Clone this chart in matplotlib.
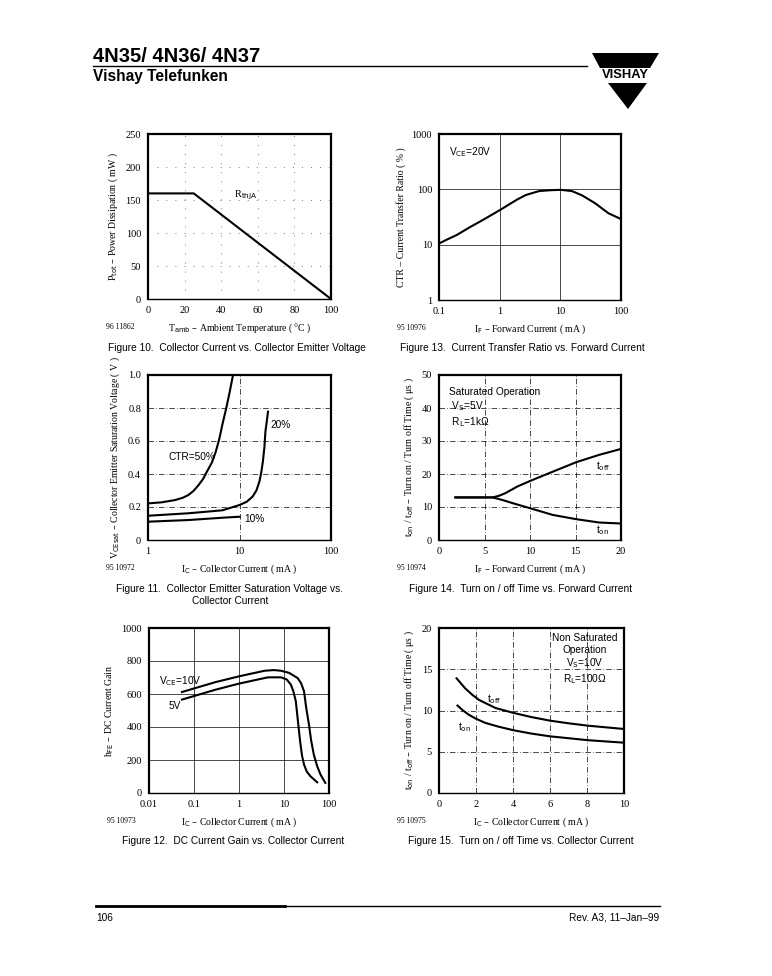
import matplotlib
matplotlib.use('Agg')
import matplotlib.pyplot as plt
import matplotlib.patches as patches
from matplotlib.ticker import FixedLocator, NullLocator

W, H = 772, 976

# ---- data ----
# Figure 10: power dissipation derating
f10_temp = [0, 25, 100]
f10_ptot = [160, 160, 0]
f10_xticks = [0, 20, 40, 60, 80, 100]
f10_yticks = [0, 50, 100, 150, 200, 250]

# Figure 13: CTR vs forward current
f13_if = [0.1, 0.132, 0.197, 0.318, 0.53, 1.0, 1.97, 2.7, 4.47, 6.5, 10, 15.5, 22.7, 37.5, 62, 100]
f13_ctr = [10.5, 12.2, 15, 20.5, 28, 42, 66, 79, 93, 96, 98, 93, 78, 56, 37, 29]
f13_xticks = [0.1, 1, 10, 100]
f13_xlabels = ['0.1', '1', '10', '100']
f13_yticks = [1, 10, 100, 1000]
f13_ylabels = ['1', '10', '100', '1000']

# Figure 11: VCEsat vs collector current
f11_ic_50 = [1.0, 1.4, 1.97, 2.4, 2.77, 3.15, 3.57, 4.0, 4.4, 5.0, 5.5, 6.0, 6.5, 7.1, 7.7, 8.5]
f11_v_50 = [0.222, 0.228, 0.242, 0.256, 0.273, 0.298, 0.333, 0.37, 0.414, 0.47, 0.535, 0.61, 0.70, 0.79, 0.88, 1.0]
f11_ic_20 = [1.0, 2.77, 6.5, 10, 12.0, 13.9, 15.3, 16.5, 17.3, 18, 18.7, 19.2, 20.5]
f11_v_20 = [0.147, 0.162, 0.18, 0.212, 0.232, 0.263, 0.30, 0.354, 0.41, 0.475, 0.56, 0.657, 0.778]
f11_ic_10 = [1.0, 2.77, 6.5, 10]
f11_v_10 = [0.111, 0.121, 0.135, 0.141]
f11_xticks = [1, 10, 100]
f11_xlabels = ['1', '10', '100']
f11_yticks = [0, 0.2, 0.4, 0.6, 0.8, 1.0]
f11_ylabels = ['0', '0.2', '0.4', '0.6', '0.8', '1.0']

# Figure 14: ton / toff vs forward current
f14_if = [1.8, 5.9, 6.6, 7.3, 8.6, 10.1, 12.5, 15.1, 17.6, 20]
f14_toff = [12.9, 12.9, 13.4, 14.2, 16.2, 18, 20.7, 23.6, 25.8, 27.6]
f14_if_on = [1.8, 5.9, 7.0, 8.05, 10.1, 12.5, 15.1, 17.6, 20]
f14_ton = [12.9, 12.9, 12.1, 11.2, 9.55, 7.6, 6.3, 5.3, 5.0]
f14_xticks = [0, 5, 10, 15, 20]
f14_yticks = [0, 10, 20, 30, 40, 50]

# Figure 12: DC current gain
f12_ic_10v = [0.054, 0.3, 1, 3.7, 6.0, 8.6, 13, 20, 24, 27.9, 31, 35.9, 40, 46, 55, 65, 83]
f12_h_10v = [612, 672, 707, 741, 745, 741, 728, 697, 665, 616, 520, 414, 320, 232, 160, 111, 61]
f12_ic_5v = [0.054, 0.3, 1, 4.4, 8.6, 11.5, 14.2, 16.2, 18.3, 20.5, 22.8, 25.2, 27.9, 32, 38.9, 54.6]
f12_h_5v = [566, 626, 663, 701, 701, 688, 657, 615, 556, 430, 313, 225, 172, 130, 101, 65]
f12_xticks = [0.01, 0.1, 1, 10, 100]
f12_xlabels = ['0.01', '0.1', '1', '10', '100']
f12_yticks = [0, 200, 400, 600, 800, 1000]

# Figure 15: ton / toff vs collector current
f15_ic_off = [0.95, 1.41, 1.8, 2.15, 2.6, 3.06, 4.04, 5.0, 6.0, 7.0, 8.05, 10]
f15_toff = [13.9, 12.7, 11.9, 11.3, 10.8, 10.3, 9.7, 9.2, 8.77, 8.45, 8.16, 7.76]
f15_ic_on = [1.0, 1.3, 1.6, 2.0, 2.5, 3.2, 4.04, 5.0, 6.0, 8.05, 10]
f15_ton = [10.6, 10.0, 9.5, 9.0, 8.5, 8.05, 7.6, 7.2, 6.87, 6.4, 6.1]
f15_xticks = [0, 2, 4, 6, 8, 10]
f15_yticks = [0, 5, 10, 15, 20]

SERIF = 'Liberation Serif'
SANS = 'Liberation Sans'


def make_axes(fig, x0, y0, x1, y1):
    return fig.add_axes([x0 / W, 1 - y1 / H, (x1 - x0) / W, (y1 - y0) / H])


def style(ax, xlabel, ylabel, ident):
    for s in ax.spines.values():
        s.set_linewidth(1.6)
    ax.spines['bottom'].set_linewidth(1.0)
    ax.tick_params(length=0, labelsize=7.5, pad=5)
    for lab in ax.get_xticklabels() + ax.get_yticklabels():
        lab.set_fontfamily(SERIF)
    ax.xaxis.set_minor_locator(NullLocator())
    ax.yaxis.set_minor_locator(NullLocator())
    ax.set_xlabel(xlabel, fontfamily=SERIF, fontsize=7, labelpad=5)
    ax.set_ylabel(ylabel, fontfamily=SERIF, fontsize=7, labelpad=4)
    pos = ax.get_position()
    fig.text(pos.x0 - 42 / W, pos.y0 - 28 / H, ident, fontfamily=SERIF,
             fontsize=5.5, va='center')


def caption(fig, xc, yc, text):
    fig.text(xc / W, 1 - yc / H, text, fontfamily=SANS, fontsize=7.3,
             ha='center', va='center', linespacing=1.3)


def grid(ax, ls=(0, (6, 4))):
    ax.grid(True, which='major', color='black', lw=0.5, ls=ls)
    ax.set_axisbelow(True)


def px(x, y):
    return (x / W, 1 - y / H)


fig = plt.figure(figsize=(W / 100, H / 100), dpi=100)

# ---- header ----
fig.text(93 / W, 1 - 57 / H, '4N35/ 4N36/ 4N37', fontfamily=SANS,
         fontweight='bold', fontsize=14.5, va='center')
fig.text(93 / W, 1 - 77 / H, 'Vishay Telefunken', fontfamily=SANS,
         fontweight='bold', fontsize=11.2, va='center')
fig.add_artist(plt.Line2D([93 / W, 587 / W], [1 - 66 / H, 1 - 66 / H],
                          color='black', lw=1.0))
# logo
fig.add_artist(patches.Polygon([px(592, 53), px(659, 53), px(650, 68), px(600, 68)],
                               closed=True, color='black', lw=0))
fig.text(625.5 / W, 1 - 75.5 / H, 'VISHAY', fontfamily=SANS, fontweight='bold',
         fontsize=9.3, ha='center', va='center')
fig.add_artist(patches.Polygon([px(608, 83), px(647, 83), px(628, 109)],
                               closed=True, color='black', lw=0))

# ---- footer ----
fig.add_artist(plt.Line2D([96 / W, 660 / W], [1 - 906 / H, 1 - 906 / H],
                          color='black', lw=1.0))
fig.add_artist(plt.Line2D([96 / W, 285 / W], [1 - 906 / H, 1 - 906 / H],
                          color='black', lw=2.0))
fig.text(96 / W, 1 - 918 / H, '106', fontfamily=SANS, fontsize=7.3, va='center')
fig.text(659 / W, 1 - 918 / H, 'Rev. A3, 11\u2013Jan\u201399', fontfamily=SANS,
         fontsize=7.3, va='center', ha='right')

# ---- Figure 10 ----
ax = make_axes(fig, 148, 134, 331, 299)
ax.plot(f10_temp, f10_ptot, color='black', lw=1.5)
ax.set_xlim(0, 100)
ax.set_ylim(0, 250)
ax.set_xticks(f10_xticks)
ax.set_yticks(f10_yticks)
grid(ax, ls=(0, (1, 12)))
ax.text(47, 157, r'R$_{\mathrm{thJA}}$', fontfamily=SERIF, fontsize=7.5, va='center')
style(ax, 'T$_{\\mathrm{amb}}$ \u2013 Ambient Temperature ( \u00b0C )',
      'P$_{\\mathrm{tot}}$ \u2013 Power Dissipation ( mW )', '96 11862')
caption(fig, 237, 348, 'Figure 10.  Collector Current vs. Collector Emitter Voltage')

# ---- Figure 13 ----
ax = make_axes(fig, 439, 134, 621, 300)
ax.plot(f13_if, f13_ctr, color='black', lw=1.5)
ax.set_xscale('log')
ax.set_yscale('log')
ax.set_xlim(0.1, 100)
ax.set_ylim(1, 1000)
ax.xaxis.set_major_locator(FixedLocator(f13_xticks))
ax.yaxis.set_major_locator(FixedLocator(f13_yticks))
ax.set_xticklabels(f13_xlabels)
ax.set_yticklabels(f13_ylabels)
grid(ax, ls='-')
ax.text(0.145, 480, r'V$_{\mathrm{CE}}$=20V', fontfamily=SANS, fontsize=7.3, va='center')
style(ax, 'I$_{\\mathrm{F}}$ \u2013 Forward Current ( mA )',
      'CTR \u2013 Current Transfer Ratio ( % )', '95 10976')
caption(fig, 522, 348, 'Figure 13.  Current Transfer Ratio vs. Forward Current')

# ---- Figure 11 ----
ax = make_axes(fig, 148, 375, 331, 540)
ax.plot(f11_ic_50, f11_v_50, color='black', lw=1.5)
ax.plot(f11_ic_20, f11_v_20, color='black', lw=1.5)
ax.plot(f11_ic_10, f11_v_10, color='black', lw=1.5)
ax.set_xscale('log')
ax.set_xlim(1, 100)
ax.set_ylim(0, 1.0)
ax.xaxis.set_major_locator(FixedLocator(f11_xticks))
ax.set_xticklabels(f11_xlabels)
ax.set_yticks(f11_yticks)
ax.set_yticklabels(f11_ylabels)
grid(ax, ls=(0, (8, 3, 1, 3)))
ax.text(1.66, 0.50, 'CTR=50%', fontfamily=SANS, fontsize=7.3, va='center')
ax.text(22, 0.70, '20%', fontfamily=SANS, fontsize=7.3, va='center')
ax.text(11.3, 0.13, '10%', fontfamily=SANS, fontsize=7.3, va='center')
style(ax, 'I$_{\\mathrm{C}}$ \u2013 Collector Current ( mA )',
      'V$_{\\mathrm{CEsat}}$ \u2013 Collector Emitter Saturation Voltage ( V )', '95 10972')
caption(fig, 230, 595, 'Figure 11.  Collector Emitter Saturation Voltage vs.\nCollector Current')

# ---- Figure 14 ----
ax = make_axes(fig, 439, 375, 621, 540)
ax.plot(f14_if, f14_toff, color='black', lw=1.5)
ax.plot(f14_if_on, f14_ton, color='black', lw=1.5)
ax.set_xlim(0, 20)
ax.set_ylim(0, 50)
ax.set_xticks(f14_xticks)
ax.set_yticks(f14_yticks)
grid(ax, ls=(0, (8, 3, 1, 3)))
ax.text(17.2, 22.5, 't$_{\\mathrm{off}}$', fontfamily=SANS, fontsize=7.3, va='center')
ax.text(17.2, 3.0, 't$_{\\mathrm{on}}$', fontfamily=SANS, fontsize=7.3, va='center')
ax.text(1.1, 46.5, 'Saturated Operation\n V$_{\\mathrm{S}}$=5V\n R$_{\\mathrm{L}}$=1k\u03a9',
        fontfamily=SANS, fontsize=7.3, va='top', linespacing=1.25)
style(ax, 'I$_{\\mathrm{F}}$ \u2013 Forward Current ( mA )',
      't$_{\\mathrm{on}}$ / t$_{\\mathrm{off}}$ \u2013 Turn on / Turn off Time ( \u03bcs )', '95 10974')
caption(fig, 521, 589, 'Figure 14.  Turn on / off Time vs. Forward Current')

# ---- Figure 12 ----
ax = make_axes(fig, 149, 628, 329, 793)
ax.plot(f12_ic_10v, f12_h_10v, color='black', lw=1.5)
ax.plot(f12_ic_5v, f12_h_5v, color='black', lw=1.5)
ax.set_xscale('log')
ax.set_xlim(0.01, 100)
ax.set_ylim(0, 1000)
ax.xaxis.set_major_locator(FixedLocator(f12_xticks))
ax.set_xticklabels(f12_xlabels)
ax.set_yticks(f12_yticks)
grid(ax, ls='-')
ax.text(0.017, 677, 'V$_{\\mathrm{CE}}$=10V', fontfamily=SANS, fontsize=7.3, va='center')
ax.text(0.027, 525, '5V', fontfamily=SANS, fontsize=7.3, va='center')
style(ax, 'I$_{\\mathrm{C}}$ \u2013 Collector Current ( mA )',
      'h$_{\\mathrm{FE}}$ \u2013 DC Current Gain', '95 10973')
caption(fig, 233, 841, 'Figure 12.  DC Current Gain vs. Collector Current')

# ---- Figure 15 ----
ax = make_axes(fig, 439, 628, 624, 793)
ax.plot(f15_ic_off, f15_toff, color='black', lw=1.5)
ax.plot(f15_ic_on, f15_ton, color='black', lw=1.5)
ax.set_xlim(0, 10)
ax.set_ylim(0, 20)
ax.set_xticks(f15_xticks)
ax.set_yticks(f15_yticks)
grid(ax, ls=(0, (8, 3, 1, 3)))
ax.text(2.6, 11.4, 't$_{\\mathrm{off}}$', fontfamily=SANS, fontsize=7.3, va='center')
ax.text(1.0, 8.0, 't$_{\\mathrm{on}}$', fontfamily=SANS, fontsize=7.3, va='center')
ax.text(7.9, 19.4, 'Non Saturated\nOperation\nV$_{\\mathrm{S}}$=10V\nR$_{\\mathrm{L}}$=100\u03a9',
        fontfamily=SANS, fontsize=7.3, va='top', ha='center', linespacing=1.2)
style(ax, 'I$_{\\mathrm{C}}$ \u2013 Collector Current ( mA )',
      't$_{\\mathrm{on}}$ / t$_{\\mathrm{off}}$ \u2013 Turn on / Turn off Time ( \u03bcs )', '95 10975')
caption(fig, 521, 841, 'Figure 15.  Turn on / off Time vs. Collector Current')

fig.savefig('out.png', dpi=100)
